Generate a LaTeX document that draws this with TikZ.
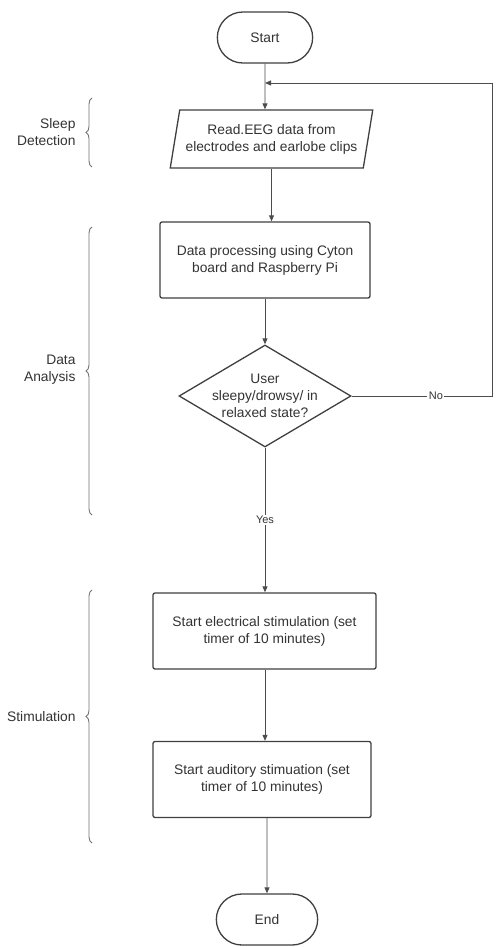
\documentclass[tikz,border=0pt]{standalone}
\usepackage{fontspec}
\setmainfont{Liberation Sans}
\usetikzlibrary{shapes.geometric,shapes.misc,arrows.meta,decorations.pathreplacing}

\begin{document}
\begin{tikzpicture}[x=1pt, y=-1pt,
  every node/.style={font=\fontsize{13.8}{17}\selectfont, text=black!80},
  terminal/.style={draw=black!75, line width=1.3pt, rounded rectangle, minimum width=102pt, minimum height=51pt},
  io/.style={draw=black!75, line width=1.3pt, trapezium, trapezium left angle=75, trapezium right angle=105,
    trapezium stretches=true, minimum width=203pt, minimum height=58pt, align=center, inner sep=2pt},
  process/.style={draw=black!75, line width=1.3pt, rectangle, rounded corners=2pt, minimum height=76pt, align=center},
  decision/.style={draw=black!75, line width=1.3pt, diamond, minimum width=172pt, minimum height=102pt, inner sep=0pt},
  flow/.style={draw=black!70, line width=0.9pt, -{Triangle[length=6pt,width=5pt]}},
  bracket/.style={draw=black!55, line width=0.9pt, decorate, decoration={brace, amplitude=6pt}},
  phase/.style={anchor=east, align=right},
  answer/.style={font=\fontsize{11}{13}\selectfont, fill=white, inner sep=1.5pt}]
\fill[white] (0,0) rectangle (496,947);
\useasboundingbox (0,0) rectangle (496,947);

% flow chart
\node[terminal] (start) at (265,37.5) {Start};
\node[io] (read) at (271.5,139) {Read.EEG data from\\electrodes and earlobe clips};
\node[process, minimum width=210pt] (proc) at (265,260) {Data processing using Cyton\\board and Raspberry Pi};
\node[decision, label={[align=center]center:User\\sleepy/drowsy/ in\\relaxed state?}] (check) at (265,396) {};
\node[process, minimum width=223pt] (elec) at (264.5,631) {Start electrical stimulation (set\\timer of 10 minutes)};
\node[process, minimum width=218pt] (audio) at (262,779.5) {Start auditory stimuation (set\\timer of 10 minutes)};
\node[terminal, minimum width=108pt] (stop) at (267,919.5) {End};

\coordinate (merge) at (265,83);
\coordinate (rim) at (492,396);

\draw[flow] (start) -- (start |- read.north);
\draw[flow] (read.south) -- (read.south |- proc.north);
\draw[flow] (proc) -- (check);
\draw[flow] (check) -- node[answer] {Yes} (check |- elec.north);
\draw[flow] (check.east) -- node[answer, pos=0.6] {No} (rim) |- (merge);
\draw[flow] (elec.south -| check) -- (check |- audio.north);
\draw[flow] (audio.south -| stop) -- (stop);

% phases
\draw[bracket] (92,167) -- (92,98);
\draw[bracket] (92,515) -- (92,227);
\draw[bracket] (92,843) -- (92,590);
\node[phase] (sleep) at (79,132) {Sleep\\Detection};
\node[phase] (analysis) at (79,370) {Data\\Analysis};
\node[phase] (stimulation) at (79,717) {Stimulation};
\end{tikzpicture}
\end{document}
